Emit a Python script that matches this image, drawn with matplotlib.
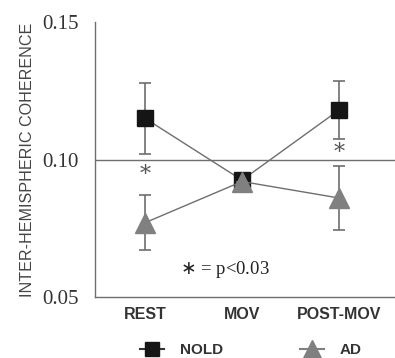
import matplotlib.pyplot as plt
from matplotlib.lines import Line2D

conditions = ['REST', 'MOV', 'POST-MOV']
nold_mean = [0.115, 0.0925, 0.118]
nold_err = [0.013, 0.0, 0.0105]
ad_mean = [0.077, 0.092, 0.086]
ad_err = [0.010, 0.0, 0.0115]
yticks = [0.05, 0.10, 0.15]

GRAY = '#808080'
LINE = '#6e6e6e'

fig = plt.figure(figsize=(3.95, 3.58), dpi=100)
ax = fig.add_axes([0.2405, 0.1704, 0.7595, 0.7681])

x = list(range(len(conditions)))
ax.errorbar(x, nold_mean, yerr=nold_err, color=LINE, lw=1.0, ecolor=LINE,
            elinewidth=1.2, capsize=4, capthick=1.2, marker='s', ms=11.5,
            mfc='#151515', mec='#151515', zorder=3)
ax.errorbar(x, ad_mean, yerr=ad_err, color=LINE, lw=1.0, ecolor=LINE,
            elinewidth=1.2, capsize=4, capthick=1.2, marker='^', ms=14,
            mfc=GRAY, mec=GRAY, zorder=4)

ax.axhline(0.10, color=LINE, lw=1.0, zorder=1)

ax.text(0, 0.0945, '*', ha='center', va='center', fontsize=16,
        color='#555555', family='DejaVu Serif')
ax.text(2, 0.1025, '*', ha='center', va='center', fontsize=16,
        color='#555555', family='DejaVu Serif')
ax.text(0.82, 0.060, '$\\ast$ = p<0.03', ha='center', va='center',
        fontsize=13.5, color='#222222', family='Liberation Serif')

ax.set_xlim(-0.515, 2.577)
ax.set_ylim(0.05, 0.15)
ax.set_xticks(x)
ax.set_xticklabels(conditions, fontsize=11.5, fontweight='bold',
                   color='#333333', family='Liberation Sans')
ax.set_yticks(yticks)
ax.set_yticklabels(['0.05', '0.10', '0.15'], fontsize=15,
                   color='#333333', family='Liberation Serif')
ax.tick_params(axis='y', length=0, pad=12)
ax.tick_params(axis='x', length=0, pad=7)
for side in ['top', 'right']:
    ax.spines[side].set_visible(False)
for side in ['left', 'bottom']:
    ax.spines[side].set_color(LINE)
    ax.spines[side].set_linewidth(1.0)

ax.set_ylabel('INTER-HEMISPHERIC COHERENCE', fontsize=11.6, color='#444444',
              family='Liberation Sans', labelpad=5)

handles = [
    Line2D([], [], color='#333333', lw=1.5, marker='s', ms=10,
           mfc='#151515', mec='#151515'),
    Line2D([], [], color=GRAY, lw=1.5, marker='^', ms=13,
           mfc=GRAY, mec=GRAY),
]
leg = fig.legend(handles, ['NOLD', 'AD'], loc='center',
                 bbox_to_anchor=(0.635, 0.022), ncol=2, frameon=False,
                 handlelength=1.6, columnspacing=5.0, handletextpad=1.05,
                 prop={'family': 'Liberation Sans', 'weight': 'bold', 'size': 11})
for t in leg.get_texts():
    t.set_color('#333333')

fig.savefig('out.png', dpi=100)
